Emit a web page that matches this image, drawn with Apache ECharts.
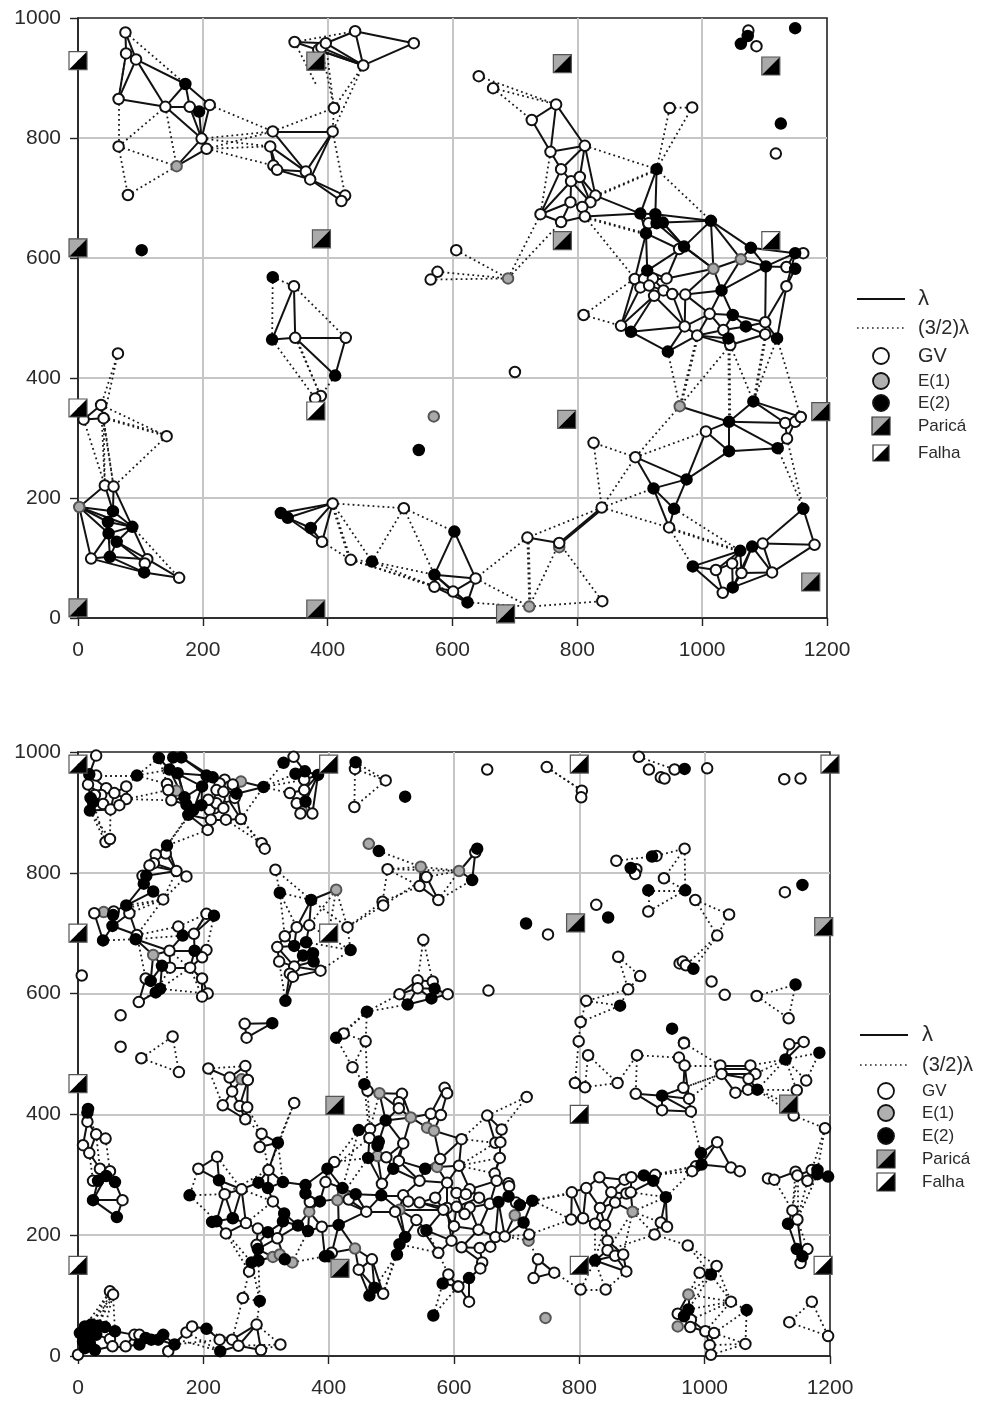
<!DOCTYPE html>
<html><head><meta charset="utf-8">
<style>html,body{margin:0;padding:0;background:#fff}#c{width:982px;height:1403px}</style>
<script src="https://cdn.jsdelivr.net/npm/echarts@6/dist/echarts.min.js"></script>
</head><body><div id="c"></div>
<script>
const xTicks=[0,200,400,600,800,1000,1200];
const legendLabels=['λ','(3/2)λ','GV','E(1)','E(2)','Paricá','Falha'];

// ---------- upper panel ----------
const topGV=[[76,976],[77,941],[93,931],[65,865],[140,852],[179,852],[211,855],[198,799],[206,782],[65,786],[80,705],
[347,960],[385,947],[390,951],[397,958],[444,978],[538,958],[457,921],[410,850],[408,811],[312,811],[308,786],[313,754],[319,747],[365,744],[372,731],[428,704],[422,695],
[606,613],[576,577],[565,564],[642,903],[665,883],[766,856],[727,830],[757,777],[812,787],[774,748],[790,728],[804,735],[829,704],[821,693],[789,693],[808,685],[812,669],[774,660],[741,673],
[948,850],[984,851],[1118,774],[1087,953],[1074,979],[914,658],[963,615],
[892,565],[907,565],[921,566],[943,566],[901,551],[915,554],[938,546],[923,537],[952,540],[973,539],[870,487],[972,486],[992,471],[1012,507],[1034,480],[1101,493],[1101,473],[1045,455],[1135,585],[1135,553],[1162,608],[810,505],[700,410],
[826,292],[893,268],[1006,311],[1133,325],[1149,327],[1158,335],[1136,299],[839,184],[720,134],[771,125],[947,151],[1022,80],[1048,91],[1063,75],[1033,42],[1097,124],[1180,122],[1112,76],[840,28],[637,66],
[64,441],[37,355],[41,333],[9,331],[142,303],[43,221],[57,219],[21,99],[111,98],[107,91],[162,67],[348,467],[429,467],[389,370],[380,366],[346,553],[408,191],[391,127],[437,97],[522,183],[571,52],[601,44]];
const topE1=[[158,753],[689,566],[1018,582],[1062,598],[964,353],[723,19],[771,118],[570,336],[2,185]];
const topE2=[[172,890],[194,844],[102,613],[312,568],[927,748],[901,674],[925,673],[927,658],[937,659],[1014,662],[910,641],[971,619],[1078,617],[1102,586],[1149,608],[1149,582],[1031,546],[912,579],[1062,957],[1073,970],[1149,983],[1126,824],
[1049,505],[1070,486],[1042,466],[1120,466],[886,477],[945,444],[1082,361],[1043,327],[1043,278],[1121,283],[975,231],[922,216],[955,182],[1162,182],[1061,112],[1080,119],[985,86],[1049,51],[624,26],
[56,178],[48,160],[49,141],[87,152],[62,127],[51,102],[106,76],[311,464],[412,404],[546,280],[325,175],[336,167],[373,150],[471,94],[603,144],[571,72]];
const topParica=[[0,617],[381,928],[390,632],[776,924],[1110,920],[776,629],[783,331],[1190,344],[685,7],[1174,60],[0,17],[381,15]];
const topFalha=[[0,929],[1110,629],[0,350],[381,345]];
const topSolid=[[76,976,93,931],[76,976,77,941],[77,941,93,931],[77,941,65,865],[93,931,65,865],[93,931,140,852],[93,931,172,890],[65,865,140,852],[140,852,172,890],[172,890,179,852],[172,890,211,855],[140,852,179,852],[179,852,194,844],[211,855,194,844],[211,855,198,799],[179,852,198,799],[194,844,198,799],[140,852,198,799],[198,799,206,782],[198,799,158,753],[206,782,158,753],
[347,960,397,958],[397,958,444,978],[444,978,538,958],[538,958,457,921],[444,978,457,921],[397,958,457,921],[347,960,457,921],[385,947,457,921],[390,951,457,921],
[312,811,408,811],[312,811,365,744],[308,786,365,744],[308,786,313,754],[308,786,319,747],[319,747,365,744],[319,747,372,731],[313,754,319,747],[408,811,365,744],[408,811,372,731],[365,744,372,731],[372,731,428,704],[372,731,422,695],[428,704,422,695],
[766,856,727,830],[766,856,757,777],[766,856,812,787],[727,830,757,777],[757,777,812,787],[757,777,774,748],[812,787,774,748],[812,787,804,735],[812,787,829,704],[774,748,790,728],[774,748,741,673],[790,728,804,735],[790,728,741,673],[790,728,789,693],[804,735,829,704],[804,735,821,693],[790,728,821,693],[789,693,741,673],[789,693,774,660],[789,693,808,685],[808,685,821,693],[808,685,812,669],[774,660,741,673],[774,660,812,669],[812,669,901,674],[829,704,901,674],[821,693,829,704],
[901,674,927,748],[925,673,927,748],[925,673,1014,662],[901,674,925,673],[901,674,910,641],[901,674,914,658],[910,641,963,615],[925,673,971,619],[937,659,971,619],[937,659,1014,662],[927,658,971,619],[1014,662,971,619],[971,619,1018,582],[910,641,912,579],[912,579,971,619],[912,579,892,565],[943,566,1018,582],[943,566,963,615],[912,579,943,566],[910,641,892,565],[892,565,870,487],[901,551,870,487],[923,537,870,487],[923,537,886,477],[923,537,972,486],[952,540,972,486],[973,539,972,486],[973,539,1012,507],[973,539,1031,546],[973,539,1018,582],[892,565,907,565],[907,565,921,566],[921,566,943,566],[901,551,915,554],[915,554,938,546],[938,546,952,540],[952,540,973,539],[915,554,923,537],[892,565,901,551],[921,566,938,546],
[886,477,870,487],[886,477,972,486],[886,477,945,444],[945,444,992,471],[945,444,972,486],[972,486,992,471],[992,471,1034,480],[972,486,1012,507],[992,471,1012,507],[1012,507,1034,480],[1012,507,1049,505],[1034,480,1049,505],[1049,505,1070,486],[1034,480,1070,486],[1042,466,1034,480],[1042,466,992,471],[1045,455,992,471],[1045,455,1101,473],[1070,486,1101,473],[1070,486,1101,493],[1049,505,1101,493],[1101,493,1101,473],[1101,493,1120,466],[1101,473,1120,466],[1101,493,1135,553],[1120,466,1135,553],[1102,586,1101,493],[1031,546,1102,586],[1031,546,1049,505],[1031,546,1012,507],[1031,546,1062,598],[1018,582,1031,546],[1018,582,971,619],[1018,582,1062,598],[1062,598,1102,586],[1062,598,1078,617],[1062,598,1014,662],[1078,617,1014,662],[1018,582,1014,662],[1078,617,1102,586],[1078,617,1149,608],[1102,586,1135,585],[1102,586,1149,608],[1135,585,1149,608],[1135,553,1149,582],[1135,553,1149,608],[1135,585,1149,582],[1149,608,1162,608],
[964,353,1043,327],[1006,311,1043,327],[1006,311,1043,278],[1006,311,975,231],[893,268,975,231],[893,268,922,216],[922,216,975,231],[922,216,955,182],[922,216,947,151],[975,231,955,182],[955,182,947,151],[975,231,1043,278],[1043,327,1043,278],[1043,327,1121,283],[1043,278,1121,283],[1043,327,1082,361],[1043,327,1133,325],[1082,361,1133,325],[1082,361,1158,335],[1133,325,1136,299],[1149,327,1136,299],[1133,325,1149,327],[1149,327,1158,335],[1136,299,1121,283],
[1162,182,1097,124],[1162,182,1180,122],[1097,124,1180,122],[1180,122,1112,76],[1097,124,1112,76],[1112,76,1063,75],[1112,76,1049,51],[1097,124,1080,119],[1080,119,1112,76],[1080,119,1063,75],[1061,112,1063,75],[1061,112,985,86],[1061,112,1022,80],[1061,112,1048,91],[985,86,1022,80],[985,86,1033,42],[1022,80,1033,42],[1022,80,1048,91],[1048,91,1049,51],[1033,42,1049,51],[1049,51,1063,75],[1048,91,1063,75],[1080,119,1049,51],[720,134,771,125],[771,125,839,184],[771,122,839,181],
[311,464,346,553],[348,467,346,553],[348,467,429,467],[348,467,412,404],[429,467,412,404],[311,464,348,467],
[9,331,41,333],[37,355,9,331],[37,355,41,333],[2,185,43,221],[43,221,57,219],[43,221,56,178],[57,219,56,178],[57,219,87,152],[2,185,56,178],[2,185,48,160],[2,185,49,141],[2,185,87,152],[2,185,21,99],[48,160,87,152],[49,141,87,152],[56,178,87,152],[56,178,48,160],[48,160,49,141],[49,141,21,99],[49,141,51,102],[21,99,51,102],[21,99,106,76],[51,102,106,76],[51,102,111,98],[62,127,111,98],[62,127,107,91],[62,127,49,141],[62,127,87,152],[62,127,51,102],[87,152,111,98],[111,98,162,67],[106,76,162,67],[111,98,106,76],[107,91,106,76],
[325,175,408,191],[336,167,408,191],[325,175,336,167],[336,167,373,150],[336,167,391,127],[373,150,408,191],[373,150,391,127],[408,191,391,127],
[603,144,571,72],[571,72,571,52],[571,72,637,66],[603,144,637,66],[571,52,601,44],[601,44,637,66],[601,44,624,26],[637,66,624,26],[571,72,601,44],[571,72,624,26],[571,52,624,26]];
const topDotted=[[76,976,172,890],[77,941,65,865],[65,865,65,786],[65,786,140,852],[65,786,80,705],[65,786,158,753],[140,852,158,753],[158,753,80,705],[211,855,312,811],[198,799,312,811],[206,782,312,811],[206,782,308,786],[206,782,313,754],[198,799,308,786],[312,811,410,850],
[347,960,444,978],[347,960,381,890],[390,951,410,850],[397,958,410,850],[457,921,410,850],[457,921,408,811],[410,850,408,811],[408,811,428,704],
[642,903,766,856],[665,883,766,856],[665,883,727,830],[757,777,741,673],[741,673,689,566],[774,660,689,566],[606,613,689,566],[576,577,689,566],[565,564,689,566],[812,787,927,748],[829,704,927,748],[829,702,927,746],[927,748,948,850],[927,748,984,851],[948,850,984,851],[927,748,1014,662],[812,669,910,641],[812,667,910,639],[812,669,892,566],[810,505,892,566],[810,505,870,487],
[945,444,964,353],[992,471,964,353],[994,471,966,353],[1045,455,964,353],[1042,466,1043,327],[1044,466,1045,327],[1045,455,1082,361],[1101,473,1082,361],[1103,473,1084,361],[1120,466,1082,361],[1120,466,1158,335],[1136,299,1162,182],[1121,283,1162,182],
[964,353,893,268],[893,268,1006,311],[893,268,826,292],[826,292,839,184],[839,184,893,268],[839,184,922,216],[839,184,947,151],[839,184,720,134],[720,134,723,19],[722,134,725,19],[771,125,723,19],[771,125,840,28],[723,19,840,28],[720,134,637,66],[637,66,723,19],[624,26,723,19],[955,182,1061,112],[947,151,1061,112],[947,149,1061,110],[947,151,985,86],
[312,568,311,464],[312,568,346,553],[346,553,429,467],[311,464,380,366],[348,467,389,370],[350,467,389,368],[412,404,389,370],
[64,441,37,355],[64,441,41,333],[37,355,142,303],[41,333,142,303],[41,335,142,305],[9,331,43,221],[37,355,43,221],[41,333,43,221],[41,333,57,219],[37,355,57,219],[142,303,57,219],[87,152,162,67],
[408,191,522,183],[408,191,437,97],[406,191,435,97],[408,191,471,94],[391,127,437,97],[437,97,471,94],[471,94,522,183],[522,183,603,144],[522,183,571,72],[471,94,571,72],[471,94,571,52],[437,97,571,52],[437,97,601,44]];

// ---------- lower panel ----------
const botGV=[[29,994],[29,961],[16,946],[45,940],[77,943],[37,929],[58,932],[77,922],[40,914],[52,905],[44,851],[51,856],[27,929],[66,912],
[142,947],[144,937],[149,920],[234,954],[226,948],[242,943],[237,926],[226,923],[218,907],[210,904],[212,888],[207,871],[236,888],[260,889],[293,849],[298,840],[221,937],[232,934],[221,915],[208,921],[232,907],[247,946],[250,924],
[344,992],[361,954],[361,937],[338,932],[349,915],[355,898],[374,898],[442,972],[491,953],[441,909],[494,806],[556,793],[545,778],[575,755],[486,752],[487,746],[634,834],
[140,832],[124,830],[121,816],[114,812],[157,803],[173,794],[103,795],[136,756],[26,733],[57,736],[82,733],[94,697],[160,711],[185,699],[205,732],[205,672],[146,671],[147,643],[179,643],[198,660],[198,625],[207,600],[198,595],[108,625],[97,586],[6,630],[68,564],[266,550],[269,527],[151,529],
[315,805],[349,710],[369,713],[430,710],[330,695],[318,677],[321,653],[345,645],[387,638],[338,633],[343,628],[551,689],[513,599],[542,622],[566,620],[542,609],[590,599],[424,534],[459,521],
[653,971],[748,975],[804,936],[803,925],[895,992],[911,971],[952,971],[930,958],[936,956],[1004,973],[1127,955],[1153,956],[859,820],[923,828],[968,840],[891,806],[889,798],[935,791],[910,736],[985,755],[1039,731],[1020,696],[1128,768],[750,698],[827,747],[862,661],[897,629],[878,607],[811,588],[802,553],[799,521],[960,650],[965,653],[970,647],[1011,620],[1032,598],[1083,596],[1134,559],[655,605],[967,519],
[68,512],[101,493],[161,470],[15,388],[29,367],[44,360],[8,349],[18,336],[35,310],[51,306],[24,290],[71,258],[208,476],[267,480],[242,461],[271,457],[246,438],[231,415],[258,414],[270,412],[267,392],[345,419],[293,368],[290,346],[304,308],[222,330],[192,310],[234,268],[261,276],[311,256],[268,220],[236,203],[287,211],[318,195],[285,184],[273,140],
[409,321],[395,288],[370,255],[389,214],[405,171],[469,160],[448,143],[487,103],[432,259],[460,239],[438,478],[462,439],[517,434],[512,420],[512,410],[585,444],[589,435],[563,401],[579,399],[466,376],[465,361],[519,352],[492,329],[512,323],[578,326],[612,359],[608,315],[485,285],[545,290],[589,287],[519,266],[527,256],[545,254],[589,245],[506,239],[551,207],[596,191],[575,171],[591,135],[606,115],[687,286],[604,247],[640,262],[570,262],[540,225],[600,215],
[51,107],[56,102],[0,2],[51,28],[55,16],[76,16],[90,35],[98,35],[144,8],[173,39],[182,49],[226,27],[246,27],[256,17],[285,52],[292,10],[323,19],[263,96],
[793,452],[814,498],[809,445],[861,452],[892,498],[959,494],[967,518],[968,481],[890,434],[966,444],[975,426],[932,407],[978,405],[1025,481],[1073,481],[1027,467],[1081,467],[1070,459],[1049,436],[1069,441],[1135,516],[1158,520],[1162,456],[1147,440],[1142,398],[1192,377],
[716,429],[653,398],[676,375],[666,353],[674,354],[673,328],[665,302],[688,281],[625,276],[657,252],[625,246],[604,270],[619,268],[617,235],[583,242],[639,209],[668,290],[666,197],[681,198],[720,201],[612,180],[641,179],[658,181],[645,155],[642,145],[607,115],[624,90],[699,254],
[734,160],[727,129],[760,138],[802,110],[842,110],[788,271],[811,278],[832,296],[872,292],[883,296],[921,300],[851,271],[875,269],[882,271],[833,245],[857,254],[787,226],[806,228],[825,219],[841,217],[930,221],[940,214],[920,201],[845,191],[973,183],[845,175],[857,166],[870,168],[875,140],
[1020,354],[986,314],[980,306],[1042,312],[1056,306],[1101,294],[1111,292],[1145,305],[1148,299],[1164,290],[1171,308],[1140,241],[1148,226],[1164,177],[1153,154],[1171,90],[1135,56],[1197,33],
[1019,149],[992,138],[1042,90],[957,70],[978,60],[977,48],[1001,41],[1015,38],[1008,18],[1010,2],[1065,20]];
const botE1=[[157,936],[260,951],[357,903],[464,848],[547,810],[608,803],[41,735],[120,664],[412,772],[261,458],[481,435],[531,395],[557,378],[568,373],[478,331],[573,313],[423,269],[414,258],[513,242],[697,233],[719,191],[311,164],[322,168],[342,155],[369,239],[442,178],[885,239],[746,63],[974,102],[957,49]];
const botE2=[[18,963],[94,961],[20,924],[24,917],[19,903],[129,990],[152,991],[165,991],[146,971],[159,965],[205,961],[215,958],[198,943],[170,925],[173,913],[197,912],[184,904],[176,896],[253,931],[296,942],[328,982],[347,964],[362,968],[383,962],[363,918],[443,983],[522,926],[480,836],[637,840],[629,788],
[142,845],[109,795],[105,782],[120,769],[77,746],[56,730],[55,712],[40,688],[92,690],[167,696],[217,729],[186,671],[134,646],[116,621],[131,608],[124,602],[322,767],[372,755],[435,672],[345,679],[364,685],[359,663],[375,667],[376,653],[331,588],[310,551],[569,608],[564,592],[526,582],[461,570],[412,527],
[715,716],[846,726],[968,972],[916,827],[882,808],[910,771],[969,771],[1156,780],[865,580],[982,641],[1145,615],[948,542],[1129,491],
[16,409],[15,403],[32,290],[45,298],[59,288],[24,258],[62,230],[319,353],[225,291],[178,266],[288,287],[303,278],[327,288],[247,228],[214,222],[221,223],[303,205],[287,177],[330,160],[277,155],[288,158],[290,91],[363,283],[363,269],[398,310],[386,256],[329,236],[327,223],[351,216],[367,207],[416,217],[394,165],[400,165],[473,113],[465,100],[422,278],[443,268],
[457,450],[491,390],[448,374],[480,355],[478,348],[463,328],[503,310],[554,310],[484,266],[556,208],[522,197],[513,185],[509,168],[582,120],[567,67],[671,255],[687,264],[705,250],[725,257],[711,221],[624,129],
[11,49],[21,52],[32,50],[43,48],[3,38],[16,38],[29,35],[8,24],[19,21],[27,10],[11,13],[59,41],[98,19],[108,30],[117,27],[128,27],[136,35],[154,19],[205,45],[227,8],
[932,431],[1084,441],[1183,502],[903,299],[918,290],[938,263],[825,158],[994,336],[995,317],[1180,308],[1180,301],[1197,297],[1133,219],[1147,177],[1156,165],[1010,135],[1067,76],[974,77],[967,66]];
const botParica=[[794,717],[1190,711],[410,415],[418,145],[1134,417]];
const botFalha=[[0,980],[400,980],[800,980],[1200,980],[0,700],[400,700],[0,451],[800,400],[0,150],[800,150],[1189,150]];
const botSolid=[[29,994,18,963],[18,963,16,946],[18,963,45,940],[16,946,37,929],[45,940,37,929],[45,940,58,932],[37,929,40,914],[58,932,77,943],[58,932,77,922],[77,943,77,922],[58,932,52,905],[77,922,52,905],[40,914,52,905],[20,924,40,914],[24,917,19,903],[20,924,37,929],[19,903,52,905],[16,946,20,924],
[173,913,146,971],[173,913,159,965],[146,971,152,991],[152,991,165,991],[165,991,205,961],[159,965,205,961],[205,961,198,943],[198,943,170,925],[198,943,184,904],[215,958,226,948],[226,948,234,954],[234,954,242,943],[242,943,253,931],[253,931,260,951],[260,951,296,942],[253,931,296,942],[170,925,173,913],[184,904,176,896],[176,896,207,871],[197,912,218,907],[218,907,226,923],[226,923,237,926],[237,926,253,931],[218,907,212,888],[212,888,207,871],[212,888,236,888],[236,888,260,889],[260,889,253,931],[237,926,260,889],[176,896,212,888],[142,947,157,936],[144,937,157,936],[157,936,170,925],[149,920,170,925],[149,920,173,913],[173,913,197,912],[198,943,197,912],[205,961,226,948],[215,958,198,943],[165,991,215,958],[146,971,198,943],[159,965,170,925],[170,925,184,904],[197,912,184,904],[210,904,218,907],[173,913,176,896],[129,990,146,971],[226,948,226,923],
[328,982,344,992],[344,992,362,968],[347,964,362,968],[362,968,383,962],[347,964,361,954],[361,954,383,962],[383,962,361,937],[383,962,363,918],[383,962,374,898],[361,954,361,937],[361,937,338,932],[338,932,349,915],[361,937,363,918],[349,915,355,898],[363,918,374,898],[363,918,357,903],[349,915,363,918],
[547,810,556,793],[547,810,545,778],[556,793,545,778],[556,793,575,755],[545,778,575,755],[609,803,634,834],[634,834,629,788],[637,840,634,834],[609,803,629,788],
[142,845,140,832],[140,832,157,803],[124,830,140,832],[124,830,121,816],[121,816,114,812],[114,812,157,803],[121,816,157,803],[142,845,157,803],[157,803,173,794],[114,812,109,795],[109,795,157,803],[103,795,109,795],[109,795,105,782],[105,782,120,769],[105,782,77,746],[120,769,77,746],[77,746,57,736],[26,733,56,730],[26,733,40,688],[41,735,56,730],[56,730,55,712],[55,712,40,688],[77,746,82,733],[82,733,55,712],[55,712,94,697],[94,697,92,690],[92,690,120,664],[82,733,94,697],[120,664,146,671],[92,690,146,671],[120,664,134,646],[120,664,116,621],[134,646,147,643],[134,646,116,621],[108,625,116,621],[116,621,131,608],[134,646,131,608],[131,608,124,602],[124,602,97,586],[108,625,97,586],[146,671,147,643],[146,671,186,671],[186,671,198,660],[186,671,185,699],[185,699,167,696],[160,711,167,696],[167,696,146,671],[186,671,179,643],[179,643,147,643],[179,643,198,660],[179,643,198,625],[198,660,205,672],[205,672,186,671],[198,625,207,600],[198,625,198,595],[205,732,185,699],[217,729,185,699],[205,732,217,729],
[372,755,412,772],[372,755,369,713],[372,755,349,710],[349,710,369,713],[349,710,330,695],[349,710,345,679],[369,713,364,685],[330,695,318,677],[330,695,345,679],[318,677,345,645],[318,677,345,679],[345,679,364,685],[364,685,375,667],[345,679,359,663],[359,663,376,653],[375,667,376,653],[345,645,359,663],[345,645,376,653],[376,653,387,638],[345,645,387,638],[345,645,343,628],[338,633,343,628],[343,628,387,638],[343,628,331,588],[338,633,331,588],[321,653,318,677],[321,653,345,645],
[513,599,542,622],[513,599,542,609],[513,599,526,582],[542,622,566,620],[542,622,542,609],[566,620,569,608],[569,608,590,599],[564,592,590,599],[526,582,542,609],[526,582,564,592],[542,609,569,608],[569,608,564,592],[542,609,564,592],
[266,550,310,551],[269,527,310,551],[266,550,269,527],
[15,403,15,388],[15,388,29,367],[15,388,8,349],[29,367,44,360],[29,367,18,336],[8,349,18,336],[18,336,35,310],[35,310,32,290],[35,310,51,306],[24,290,32,290],[24,258,32,290],[24,258,71,258],[24,258,45,298],[59,288,71,258],[71,258,62,230],[24,258,62,230],[45,298,59,288],[32,290,45,298],
[208,476,242,461],[267,480,271,457],[267,480,242,461],[242,461,246,438],[261,458,246,438],[271,457,270,412],[246,438,231,415],[246,438,258,414],[231,415,267,392],[258,414,267,392],[270,412,267,392],[258,414,270,412],[271,457,258,414],
[222,330,192,310],[222,330,225,291],[192,310,225,291],[225,291,234,268],[225,291,261,276],[234,268,261,276],[261,276,288,287],[288,287,303,278],[303,278,327,288],[327,288,363,283],[288,287,304,308],[304,308,303,278],[304,308,327,288],[304,308,319,353],[319,353,290,346],[290,346,293,368],[293,368,319,353],
[234,268,247,228],[234,268,221,223],[247,228,261,276],[247,228,268,220],[261,276,268,220],[221,223,247,228],[221,223,236,203],[268,220,236,203],[268,220,287,211],[287,211,303,205],[303,205,318,195],[318,195,329,223],[303,205,329,223],[287,211,285,184],[303,205,285,184],[285,184,287,177],[287,177,318,195],[287,177,311,164],[287,177,277,155],[277,155,288,158],[288,158,311,164],[311,164,322,168],[322,168,330,160],[330,160,318,195],[273,140,277,155],[273,140,288,158],
[311,256,303,278],[311,256,329,236],[329,236,327,223],[327,223,351,216],[351,216,367,207],[369,239,351,216],[369,239,367,207],[369,239,386,256],[369,239,389,214],[367,207,389,214],[389,214,416,217],[363,269,386,256],[363,283,363,269],[363,269,370,255],[370,255,369,239],[363,283,398,310],[398,310,395,288],[395,288,386,256],[386,256,415,260],[395,288,422,278],[398,310,422,278],[415,260,416,217],[389,214,394,165],[416,217,405,171],[416,217,442,178],[442,178,405,171],[405,171,394,165],[442,178,469,160],[442,178,448,143],[469,160,448,143],[448,143,473,113],[448,143,465,100],[469,160,487,103],[473,113,487,103],[465,100,473,113],[473,113,469,160],[318,195,351,216],[329,236,351,216],[422,278,443,268],[415,260,460,239],[432,259,460,239],[423,269,432,259],[416,217,460,239],[443,268,484,266],[522,197,513,185],[513,185,509,168],[398,310,409,321],
[481,435,517,434],[481,435,491,390],[462,439,481,435],[517,434,512,410],[517,434,531,395],[512,420,512,410],[512,410,531,395],[512,410,491,390],[481,435,512,410],[491,390,531,395],[491,390,519,352],[491,390,466,376],[491,390,480,355],[531,395,519,352],[531,395,557,378],[531,395,563,401],[557,378,563,401],[568,373,579,399],[563,401,579,399],[563,401,585,444],[579,399,589,435],[585,444,589,435],[568,373,612,359],[568,373,578,326],[612,359,608,315],[612,359,578,326],[578,326,573,313],[573,313,608,315],[578,326,554,310],[554,310,573,313],[554,310,512,323],[519,352,512,323],[519,352,492,329],[519,352,503,310],[466,376,465,361],[465,361,480,355],[465,361,463,328],[478,348,478,331],[478,331,463,328],[478,331,492,329],[492,329,503,310],[512,323,503,310],[463,328,485,285],[478,331,485,285],[503,310,545,290],[503,310,485,285],[512,323,545,290],[554,310,545,290],[573,313,589,287],[608,315,589,287],[608,315,625,276],[589,287,545,290],[545,290,519,266],[485,285,484,266],[484,266,519,266],[443,268,432,259],[443,268,460,239],[484,266,460,239],[484,266,513,242],[519,266,513,242],[519,266,545,254],[519,266,527,256],[545,254,589,245],[589,287,589,245],[589,287,604,270],[527,256,545,254],[545,254,583,242],[513,242,583,242],[506,239,513,242],[460,239,506,239],[513,242,522,197],[506,239,522,197],[583,242,589,245],[583,242,556,208],[589,245,617,235],[617,235,604,270],[619,268,625,276],[625,276,657,252],[625,246,657,252],[657,252,668,290],[625,276,668,290],[665,302,668,290],[665,302,673,328],[668,290,688,281],[688,281,687,264],[671,255,657,252],[671,255,687,264],[687,264,705,250],[705,250,725,257],[625,246,639,209],[657,252,639,209],[639,209,666,197],[666,197,681,198],[681,198,697,233],[681,198,711,221],[697,233,711,221],[725,257,711,221],[720,201,711,221],[671,255,666,197],[671,255,681,198],[653,398,666,353],[653,398,676,375],[676,375,674,354],[666,353,674,354],[674,354,673,328],[673,328,665,302],[604,247,617,235],[604,247,640,262],[640,262,657,252],[570,262,589,287],[570,262,583,242],[540,225,513,242],[540,225,556,208],[600,215,583,242],[600,215,596,191],[600,215,639,209],[604,247,600,215],[687,286,688,281],[570,262,545,254],[540,225,522,197],
[596,191,612,180],[612,180,641,179],[641,179,658,181],[612,180,639,209],[612,180,645,155],[641,179,645,155],[645,155,642,145],[624,129,642,145],[624,129,607,115],[607,115,624,90],[624,129,624,90],[556,208,596,191],[575,171,596,191],[591,135,606,115],[591,135,582,120],[582,120,606,115],[658,181,666,197],[589,245,596,191],[551,207,575,171],
[0,2,11,13],[11,49,21,52],[21,52,32,50],[32,50,43,48],[3,38,16,38],[16,38,29,35],[8,24,19,21],[19,21,27,10],[11,13,27,10],[27,10,55,16],[29,35,51,28],[43,48,59,41],[59,41,51,28],[51,28,55,16],[55,16,76,16],[76,16,90,35],[59,41,90,35],[76,16,98,19],[90,35,98,35],[98,35,108,30],[98,19,108,30],[108,30,117,27],[117,27,128,27],[128,27,136,35],[136,35,154,19],[128,27,154,19],[154,19,144,8],[144,8,157,13],[154,19,160,27],[160,27,173,39],[173,39,182,49],[182,49,205,45],[205,45,226,27],[226,27,227,8],[226,27,246,27],[227,8,256,17],[246,27,256,17],[256,17,285,52],[246,27,285,52],[285,52,292,10],[256,17,292,10],
[793,452,809,445],[959,494,968,481],[968,481,975,426],[968,481,966,444],[966,444,932,431],[890,434,932,431],[890,434,932,407],[932,431,975,426],[966,444,975,426],[932,431,932,407],[932,407,978,405],[975,426,978,405],[932,431,978,405],
[1025,481,1073,481],[1027,467,1081,467],[1025,475,1073,475],[1025,481,1027,467],[1073,481,1081,467],[1027,467,1049,436],[1049,436,1069,441],[1069,441,1084,441],[1081,467,1070,459],[1070,459,1084,441],[1027,467,1070,459],[1073,481,1070,459],[1135,516,1158,520],[1135,516,1129,491],[1158,520,1129,491],
[788,271,811,278],[811,278,832,296],[832,296,872,292],[872,292,883,296],[883,296,903,299],[903,299,918,290],[918,290,938,263],[903,299,921,300],[921,300,918,290],[832,296,851,271],[811,278,833,245],[851,271,833,245],[851,271,875,269],[875,269,882,271],[872,292,851,271],[883,296,882,271],[882,271,918,290],[833,245,857,254],[857,254,875,269],[833,245,825,219],[806,228,825,219],[788,271,806,228],[788,271,787,226],[787,226,806,228],[811,278,806,228],[825,219,841,217],[833,245,841,217],[857,254,885,239],[882,271,885,239],[857,254,841,217],[841,217,845,191],[938,263,930,221],[938,263,940,214],[930,221,940,214],[930,221,920,201],[845,191,845,175],[845,175,857,166],[857,166,870,168],[845,175,825,158],[870,168,875,140],[857,166,875,140],[845,191,870,168],[825,158,857,166],[825,158,875,140],
[994,336,1020,354],[994,336,995,317],[995,317,1020,354],[1020,354,1042,312],[995,317,1042,312],[986,314,995,317],[1042,312,1056,306],[734,160,727,129],[734,160,760,138],[727,129,760,138],
[1101,294,1111,292],[1111,292,1145,305],[1145,305,1148,299],[1148,299,1164,290],[1164,290,1171,308],[1171,308,1180,308],[1180,301,1197,297],[1171,308,1180,301],[1148,299,1171,308],[1140,241,1148,226],[1140,241,1133,219],[1133,219,1148,226],[1133,219,1147,177],[1148,226,1156,165],[1147,177,1156,165],[1147,177,1164,177],[1164,177,1156,165],[1156,165,1153,154],
[974,102,974,77],[974,77,967,66],[957,70,967,66],[967,66,957,49],[974,77,978,60],[978,60,1001,41],[977,48,1001,41],[1001,41,1015,38],[1001,41,1008,18],[1015,38,1008,18],[974,102,957,70],[992,138,1010,135],[1010,135,1019,149]];
const botDotted=[[94,961,29,961],[94,961,77,943],[94,961,142,947],[94,961,146,971],[77,922,149,920],[77,922,144,937],[52,905,51,856],[19,903,44,851],[24,917,44,851],[19,903,51,856],[129,990,142,947],[129,990,94,961],[176,896,142,845],[207,871,142,845],[184,904,142,845],[260,889,293,849],[260,889,298,840],[236,888,293,849],[296,942,328,982],[296,942,347,964],[296,942,338,932],[296,942,361,954],[260,889,296,942],
[443,983,491,953],[442,972,491,953],[442,972,441,909],[491,953,441,909],[480,836,547,810],[494,806,547,810],[494,806,608,803],[494,806,545,778],[494,806,486,752],[486,752,545,778],[487,746,556,793],[547,810,608,803],[556,793,608,803],[575,755,608,803],[575,755,629,788],[608,803,629,788],[487,746,430,710],[486,752,430,710],[748,975,804,936],
[173,794,136,756],[157,803,136,756],[136,756,82,733],[136,756,77,746],[120,769,136,756],[136,756,94,697],[136,756,57,736],[94,697,160,711],[92,690,167,696],[40,688,92,690],[160,711,205,732],[185,699,205,732],[217,729,205,672],[131,608,207,600],[147,643,124,602],[179,643,131,608],[179,643,198,595],[146,671,198,625],[97,586,131,608],[94,697,108,625],
[322,767,372,755],[322,767,330,695],[322,767,349,710],[412,772,369,713],[412,772,430,710],[372,755,430,710],[412,772,400,700],[430,710,435,672],[369,713,435,672],[387,638,435,672],[364,685,435,672],[331,588,321,653],[315,805,322,767],[315,805,372,755],[551,689,542,622],[551,689,566,620],[461,570,526,582],[461,570,513,599],[438,478,457,451],[459,521,438,478],[459,521,462,441],[412,527,438,478],[424,534,461,570],[424,534,459,521],[461,570,459,521],[461,570,412,527],
[101,493,151,529],[101,493,161,470],[151,529,161,470],[15,403,29,367],[44,360,51,306],[29,367,35,310],[18,336,24,290],[208,476,267,480],[208,476,231,415],[267,392,293,368],[270,412,293,368],
[192,310,178,266],[178,266,234,268],[178,266,221,223],[222,330,261,276],[234,268,304,308],[261,276,311,256],[268,220,311,256],[304,308,345,419],[319,353,345,419],[293,368,304,308],[319,353,327,288],[236,203,273,140],[221,223,277,155],[287,177,273,140],[273,140,263,96],[288,158,290,91],[277,155,290,91],[263,96,290,91],[263,96,246,27],[290,91,285,52],[285,52,323,19],[342,155,394,165],[367,207,342,155],[409,321,463,328],[448,374,409,321],[448,374,422,278],[463,328,423,269],[465,361,402,308],[481,435,466,376],[462,439,466,376],[457,450,465,361],[567,67,582,120],[567,67,606,115],[513,185,487,103],[509,168,465,100],[509,168,487,103],[575,171,513,185],[575,171,556,208],[575,171,591,135],
[11,49,51,107],[21,52,51,107],[21,52,56,102],[32,50,51,107],[32,50,56,102],[43,48,56,102],[59,41,56,102],[154,19,226,27],[173,39,227,8],[160,27,227,8],[182,49,246,27],[256,17,323,19],[292,10,323,19],
[862,661,897,629],[862,661,878,607],[897,629,878,607],[878,607,811,588],[878,607,865,580],[811,588,865,580],[811,588,802,553],[802,553,865,580],[802,553,799,521],[814,498,861,452],[799,521,793,452],[814,498,809,445],[809,445,861,452],[861,452,892,498],[892,498,959,494],[892,498,890,434],[967,518,959,494],[968,481,1025,481],[966,444,1027,467],[975,426,1027,467],[932,431,1027,467],[967,518,1025,481],[804,936,748,975],[859,820,916,827],[923,828,968,840],[968,840,935,791],[968,840,969,771],[935,791,969,771],[910,771,969,771],[910,771,910,736],[969,771,910,736],[985,755,1039,731],[985,755,1020,696],[1039,731,1020,696],[1020,696,982,641],[1020,696,970,647],[895,992,952,971],[1083,596,1145,615],[1083,596,1134,559],[1145,615,1134,559],
[1129,491,1073,481],[1129,491,1081,467],[1129,491,1084,441],[1129,491,1183,502],[1129,491,1162,456],[1162,456,1183,502],[1129,491,1147,440],[1084,441,1147,440],[1084,441,1134,417],[1142,398,1192,377],[1142,398,1084,441],[1192,377,1180,308],[1192,377,1171,308],
[726,257,788,271],[726,257,788,269],[726,257,787,226],[720,201,787,226],[885,239,938,263],[885,239,930,221],[885,239,920,201],[885,239,845,175],[885,239,870,168],[882,271,938,263],[920,201,845,175],[920,201,973,183],[973,183,1010,135],[973,183,1019,149],[825,219,825,158],[841,217,825,158],[825,158,802,110],[825,158,842,110],[802,110,842,110],[875,140,842,110],[760,138,802,110],[921,300,980,306],[921,300,986,314],[921,300,995,317],[938,263,980,306],[978,405,994,336],[994,336,986,314],[734,160,719,191],
[1111,292,1140,241],[1145,305,1140,241],[1148,299,1140,241],[1148,299,1148,226],[1164,290,1148,226],[1180,301,1148,226],[1148,226,1164,177],[1171,90,1135,56],[1171,90,1197,33],[1135,56,1197,33],
[992,138,974,102],[1010,135,974,102],[1019,149,1042,90],[1010,135,1042,90],[974,102,1042,90],[974,77,1042,90],[978,60,1042,90],[1001,41,1042,90],[1015,38,1067,76],[1042,90,1067,76],[1067,76,1065,20],[1015,38,1065,20],[1008,18,1065,20],[1010,2,1065,20],[1008,18,1010,2],[967,66,1010,135],
[612,359,666,353],[608,315,666,353],[608,315,673,328],[608,315,665,302],[612,359,653,398],[653,398,716,429],[676,375,716,429],[720,201,666,197],[719,191,681,198],[711,221,720,201],[726,257,699,254]];

const FONT='"Liberation Sans",Arial,sans-serif';
function segs(list,dotted,xi,z){
  return {type:'lines',coordinateSystem:'cartesian2d',xAxisIndex:xi,yAxisIndex:xi,silent:true,z:z,
    data:list.map(s=>({coords:[[s[0],s[1]],[s[2],s[3]]]})),
    lineStyle:dotted?{color:'#1a1a1a',width:1.8,type:[1.8,3.2],opacity:1,curveness:0}:{color:'#111',width:2,type:'solid',opacity:1,curveness:0}};
}
function dots(list,fill,stroke,xi,z){
  return {type:'scatter',xAxisIndex:xi,yAxisIndex:xi,data:list,symbol:'circle',symbolSize:10.5,clip:false,silent:true,z:z,
    itemStyle:{color:fill,borderColor:stroke,borderWidth:2,opacity:1}};
}
function squares(list,tone,xi){
  return {type:'custom',xAxisIndex:xi,yAxisIndex:xi,data:list,clip:false,silent:true,z:9,
    encode:{x:0,y:1},
    renderItem:(p,api)=>{
      const c=api.coord([api.value(0),api.value(1)]),h=9;
      const a=[c[0]-h,c[1]-h],b=[c[0]+h,c[1]-h],d=[c[0]+h,c[1]+h],e=[c[0]-h,c[1]+h];
      return {type:'group',children:[
        {type:'polygon',shape:{points:[a,b,e]},style:{fill:tone}},
        {type:'polygon',shape:{points:[b,d,e]},style:{fill:'#000'}},
        {type:'polygon',shape:{points:[a,b,d,e]},style:{fill:'none',stroke:'#555',lineWidth:1.2}}
      ]};
    }};
}
function axis(kind,grid,max,interval){
  return {type:'value',gridIndex:grid,min:0,max:max,interval:interval,
    axisLine:{show:true,onZero:false,lineStyle:{color:'#222',width:1.6}},
    axisTick:{show:true,length:8,lineStyle:{color:'#222',width:1.4}},
    axisLabel:{color:'#2a2a2a',fontFamily:FONT,fontSize:21,margin:kind==='x'?22:17,showMinLabel:true,showMaxLabel:true,hideOverlap:false,formatter:v=>String(v)},
    splitLine:{show:true,showMinLine:false,showMaxLine:false,lineStyle:{color:'#c6c6c6',width:2}}};
}
function legendBlock(x0,x1,mx,tx,ys,sizes){
  const g=[];
  const text=(i,size,y,font)=>({type:'text',z:20,style:{text:legendLabels[i],x:tx,y:y,fill:'#2a2a2a',font:size+'px '+(font||FONT),textVerticalAlign:'middle',verticalAlign:'middle'}});
  g.push({type:'line',z:20,shape:{x1:x0,y1:ys[0],x2:x1,y2:ys[0]},style:{stroke:'#111',lineWidth:1.8}});
  g.push({type:'line',z:20,shape:{x1:x0,y1:ys[1],x2:x1,y2:ys[1]},style:{stroke:'#222',lineWidth:1.6,lineDash:[1.6,3.4]}});
  [['#fff',2],['#b0b0b0',3],['#000',4]].forEach(([f,k])=>{
    g.push({type:'circle',z:20,shape:{cx:mx,cy:ys[k],r:8},style:{fill:f,stroke:'#111',lineWidth:1.8}});
  });
  [['#a8a8a8',5,9],['#fff',6,sizes.f]].forEach(([f,k,h])=>{
    const y=ys[k];
    g.push({type:'polygon',z:20,shape:{points:[[mx-h,y-h],[mx+h,y-h],[mx-h,y+h]]},style:{fill:f}});
    g.push({type:'polygon',z:20,shape:{points:[[mx+h,y-h],[mx+h,y+h],[mx-h,y+h]]},style:{fill:'#000'}});
    g.push({type:'polygon',z:20,shape:{points:[[mx-h,y-h],[mx+h,y-h],[mx+h,y+h],[mx-h,y+h]]},style:{fill:'none',stroke:'#333',lineWidth:1.2}});
  });
  legendLabels.forEach((_,i)=>g.push(text(i,sizes.t[i],ys[i])));
  return g;
}
const chart=echarts.init(document.getElementById('c'),null,{renderer:'canvas'});
chart.setOption({
  animation:false,backgroundColor:'#fff',
  grid:[{left:78,top:18,width:749,height:600,show:true,borderColor:'#222',borderWidth:1.6,backgroundColor:'#fff'},
        {left:78,top:752,width:752,height:604,show:true,borderColor:'#222',borderWidth:1.6,backgroundColor:'#fff'}],
  xAxis:[axis('x',0,1200,xTicks[1]),axis('x',1,1200,xTicks[1])],
  yAxis:[axis('y',0,1000,xTicks[1]),axis('y',1,1000,xTicks[1])],
  series:[
    segs(topDotted,true,0,3),segs(topSolid,false,0,4),
    dots(topE1,'#aaaaaa','#555',0,5),dots(topGV,'#fff','#111',0,6),dots(topE2,'#000','#000',0,7),
    squares(topParica,'#aaaaaa',0),squares(topFalha,'#fff',0),
    segs(botDotted,true,1,3),segs(botSolid,false,1,4),
    dots(botE1,'#aaaaaa','#555',1,5),dots(botGV,'#fff','#111',1,6),dots(botE2,'#000','#000',1,7),
    squares(botParica,'#aaaaaa',1),squares(botFalha,'#fff',1)
  ],
  graphic:{elements:[
    ...legendBlock(857,905,881,918,[299,328,356,381,403,426,453],{f:8,t:[22,20,20,17,17,17,17]}),
    ...legendBlock(860,908,886,922,[1035,1065,1091,1113,1136,1159,1182],{f:9,t:[22,20,17,17,17,17,17]})
  ]}
});
</script></body></html>
